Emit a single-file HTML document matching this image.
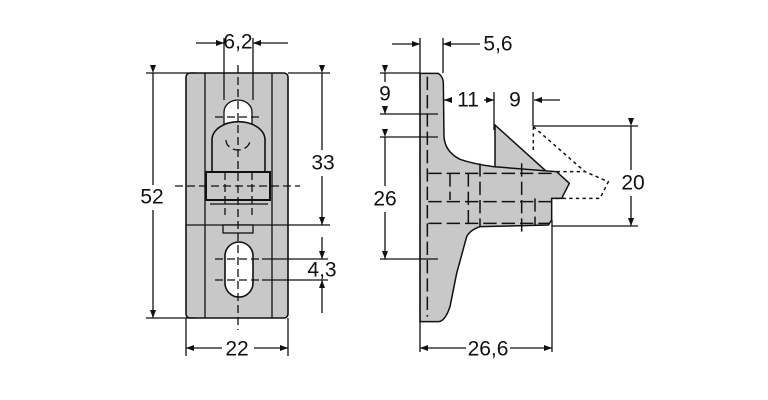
<!DOCTYPE html>
<html><head><meta charset="utf-8"><style>
html,body{margin:0;padding:0;background:#fff;width:768px;height:400px;overflow:hidden}
svg{display:block}
text{font-family:"Liberation Sans",sans-serif;font-size:21px;fill:#111;text-anchor:middle;dominant-baseline:central}
</style></head><body>
<svg width="768" height="400" viewBox="0 0 768 400">
<defs>
<marker id="a" markerWidth="8" markerHeight="6" refX="8" refY="3" orient="auto" markerUnits="userSpaceOnUse"><path d="M0,0L8,3L0,6z" fill="#111"/></marker>
</defs>
<g stroke="#111" stroke-width="1.3" fill="none">
<!-- LEFT VIEW -->
<rect x="186" y="73" width="102" height="245" rx="4" fill="#c8c8c8" stroke-width="1.6"/>
<line x1="205" y1="73" x2="205" y2="318"/><line x1="272" y1="73" x2="272" y2="318"/>
<line x1="186" y1="225" x2="288" y2="225"/>
<path d="M224,124V112A14,12 0 0 1 252,112V124Z" fill="#fff"/>
<path d="M212,172V140A26,18 0 0 1 265,140V172Z" fill="#c8c8c8" stroke-width="1.6"/>
<rect x="206" y="172" width="64" height="28" fill="#c8c8c8" stroke-width="2"/>
<line x1="210" y1="204" x2="268" y2="204"/>
<rect x="223" y="225" width="30" height="8" fill="#c8c8c8"/>
<rect x="225" y="242" width="28" height="55" rx="14" fill="#fff" stroke-width="1.6"/>
<g stroke-dasharray="8,4">
<line x1="238" y1="65" x2="238" y2="330"/>
<line x1="175" y1="186" x2="300" y2="186"/>
<line x1="215" y1="117" x2="262" y2="117"/>
<line x1="215" y1="259" x2="262" y2="259"/><line x1="215" y1="280" x2="262" y2="280"/>
<path d="M226,140A12,10 0 0 0 250,140"/>
<line x1="225" y1="172" x2="225" y2="215"/><line x1="252" y1="172" x2="252" y2="215"/>
</g>
<!-- left dims -->
<line x1="146" y1="73" x2="196" y2="73"/><line x1="146" y1="318" x2="196" y2="318"/>
<line x1="153" y1="73" x2="153" y2="185" marker-start="url(#a)"/><line x1="153" y1="210" x2="153" y2="318" marker-end="url(#a)"/>
<line x1="288" y1="73" x2="330" y2="73"/><line x1="288" y1="225" x2="330" y2="225"/>
<line x1="322" y1="73" x2="322" y2="150" marker-start="url(#a)"/><line x1="322" y1="176" x2="322" y2="225" marker-end="url(#a)"/>
<line x1="262" y1="259" x2="328" y2="259"/><line x1="262" y1="280" x2="328" y2="280"/>
<line x1="322" y1="237" x2="322" y2="259" marker-end="url(#a)"/><line x1="322" y1="313" x2="322" y2="280" marker-end="url(#a)"/>
<line x1="186" y1="318" x2="186" y2="356"/><line x1="288" y1="318" x2="288" y2="356"/>
<line x1="222" y1="348" x2="186" y2="348" marker-end="url(#a)"/><line x1="254" y1="348" x2="288" y2="348" marker-end="url(#a)"/>
<line x1="224" y1="38" x2="224" y2="100"/><line x1="253" y1="38" x2="253" y2="100"/>
<line x1="196" y1="43" x2="224" y2="43" marker-end="url(#a)"/><line x1="288" y1="43" x2="253" y2="43" marker-end="url(#a)"/>
<!-- RIGHT VIEW -->
<g transform="translate(370,20) scale(0.33333)" stroke-width="4.5">
<path d="M375,315L530,455L375,445Z" fill="#c8c8c8"/>
<path d="M150,160L205,160Q220,170 220,190L222,350Q225,395 270,418Q310,432 370,440L560,455L598,490L575,535L545,535L545,600L535,615L330,620Q300,630 290,650L260,760L240,860Q225,905 205,905L150,905Z" fill="#c8c8c8"/>
<g stroke-dasharray="10,10">
<path d="M490,320V395M490,320L645,455L715,485L690,535L545,535M560,455L645,455"/>
</g>
<g stroke-dasharray="40,15">
<path d="M172,170V890M175,460H545M175,545H545M175,610H540M240,460V540M295,460V610M330,430V620M455,430V640M495,535V615"/>
</g>
</g>
<!-- right dims -->
<line x1="420" y1="38" x2="420" y2="352"/>
<line x1="443" y1="38" x2="443" y2="73"/>
<line x1="392" y1="44" x2="420" y2="44" marker-end="url(#a)"/><line x1="480" y1="44" x2="443" y2="44" marker-end="url(#a)"/>
<line x1="380" y1="73" x2="420" y2="73"/><line x1="380" y1="114" x2="438" y2="114"/>
<line x1="385" y1="73" x2="385" y2="82" marker-start="url(#a)"/><line x1="385" y1="106" x2="385" y2="114" marker-end="url(#a)"/>
<line x1="380" y1="137" x2="438" y2="137"/><line x1="380" y1="259" x2="438" y2="259"/>
<line x1="385" y1="137" x2="385" y2="186" marker-start="url(#a)"/><line x1="385" y1="212" x2="385" y2="259" marker-end="url(#a)"/>
<line x1="452" y1="100" x2="444" y2="100" marker-end="url(#a)"/><line x1="484" y1="100" x2="494" y2="100" marker-end="url(#a)"/>
<line x1="494" y1="92" x2="494" y2="130"/>
<line x1="533" y1="92" x2="533" y2="126"/>
<line x1="560" y1="100" x2="534" y2="100" marker-end="url(#a)"/>
<line x1="533" y1="126" x2="638" y2="126"/><line x1="552" y1="226" x2="638" y2="226"/>
<line x1="631" y1="126" x2="631" y2="170" marker-start="url(#a)"/><line x1="631" y1="196" x2="631" y2="226" marker-end="url(#a)"/>
<line x1="552" y1="220" x2="552" y2="352"/>
<line x1="466" y1="348" x2="420" y2="348" marker-end="url(#a)"/><line x1="510" y1="348" x2="552" y2="348" marker-end="url(#a)"/>
</g>
<text x="238" y="42">6,2</text>
<text x="152" y="197">52</text>
<text x="323" y="163">33</text>
<text x="322" y="270">4,3</text>
<text x="237" y="349">22</text>
<text x="498" y="44">5,6</text>
<text x="385" y="94">9</text>
<text x="385" y="199">26</text>
<text x="468" y="100">11</text>
<text x="515" y="100">9</text>
<text x="633" y="183">20</text>
<text x="488" y="349">26,6</text>
</svg>
</body></html>
